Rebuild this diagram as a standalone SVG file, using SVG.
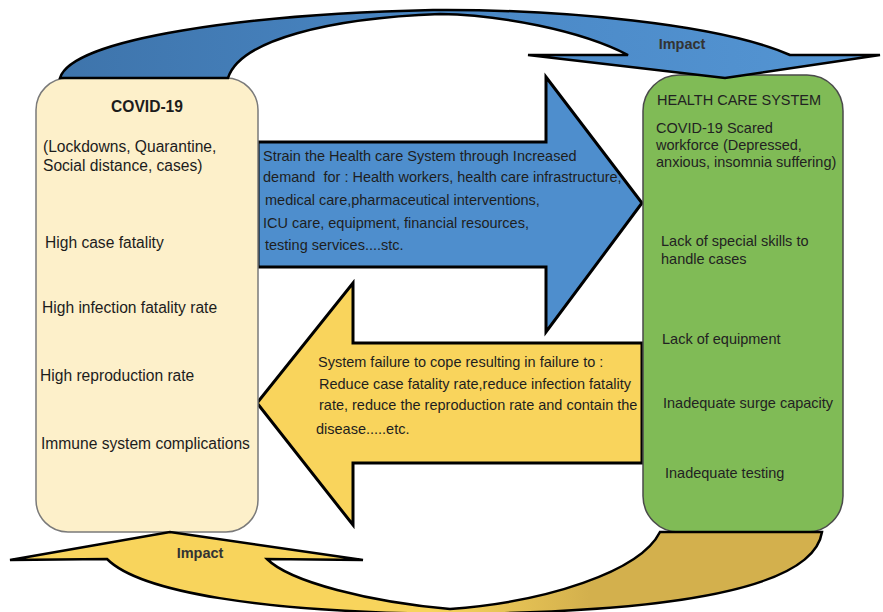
<svg xmlns="http://www.w3.org/2000/svg" width="883" height="612" viewBox="0 0 883 612">
  <defs>
    <linearGradient id="arcBlue" gradientUnits="userSpaceOnUse" x1="60" y1="0" x2="880" y2="0">
      <stop offset="0" stop-color="#3e74ab"/>
      <stop offset="0.5" stop-color="#4a88c6"/>
      <stop offset="1" stop-color="#5596d4"/>
    </linearGradient>
    <linearGradient id="arcGold" gradientUnits="userSpaceOnUse" x1="430" y1="0" x2="590" y2="0">
      <stop offset="0" stop-color="#f8d45c"/>
      <stop offset="1" stop-color="#d3b04d"/>
    </linearGradient>
  </defs>
  <style>
    .txt { font-family: "Liberation Sans", Arial, sans-serif; fill: #1c1c1c; }
    .lbox { font-size: 15.6px; }
    .rbox { font-size: 14.5px; fill: #222; }
    .arr { font-size: 14.5px; fill: #1e1e1e; }
    .bold { font-weight: bold; }
    .impact { font-family: "Liberation Sans", Arial, sans-serif; font-weight: bold; font-size: 14.5px; fill: #333; }
    .edge { stroke: #000; stroke-width: 3; stroke-linejoin: miter; }
    .arc { stroke: #000; stroke-width: 2.5; stroke-linejoin: miter; }
  </style>

  <!-- connectors -->
  <g id="connectors">
    <!-- demand arrow: COVID-19 to health care system -->
    <path id="strain-arrow" class="edge" fill="#4e8ecd"
          d="M258,142 L546,142 L546,77 L642,203 L546,332 L546,267 L258,267 Z"/>
    <!-- failure arrow: health care system back to COVID-19 -->
    <path id="failure-arrow" class="edge" fill="#f9d45c"
          d="M642,343 L353,343 L353,283 L257,403 L353,525 L353,463 L642,463 Z"/>
  </g>

  <!-- COVID-19 node -->
  <g id="covid">
    <rect x="36" y="78" width="222" height="454" rx="32" ry="32" fill="#fdf0ca" stroke="#7a7a7a" stroke-width="1.5"/>
    <text class="txt lbox bold" x="147" y="112" text-anchor="middle">COVID-19</text>
    <text class="txt lbox" x="43" y="152">(Lockdowns, Quarantine,</text>
    <text class="txt lbox" x="43" y="171">Social distance, cases)</text>
    <text class="txt lbox" x="45" y="248">High case fatality</text>
    <text class="txt lbox" x="42" y="313">High infection fatality rate</text>
    <text class="txt lbox" x="40" y="381">High reproduction rate</text>
    <text class="txt lbox" x="41" y="449">Immune system complications</text>
  </g>

  <!-- health care system node -->
  <g id="health-care">
    <rect x="643" y="75" width="200" height="457" rx="36" ry="36" fill="#80bb56" stroke="#4a4a4a" stroke-width="1.5"/>
    <text class="txt rbox" x="657" y="105">HEALTH CARE SYSTEM</text>
    <text class="txt rbox" x="656" y="133">COVID-19 Scared</text>
    <text class="txt rbox" x="656" y="150">workforce (Depressed,</text>
    <text class="txt rbox" x="656" y="167">anxious, insomnia suffering)</text>
    <text class="txt rbox" x="661" y="246">Lack of special skills to</text>
    <text class="txt rbox" x="661" y="264">handle cases</text>
    <text class="txt rbox" x="662" y="344">Lack of equipment</text>
    <text class="txt rbox" x="663" y="408">Inadequate surge capacity</text>
    <text class="txt rbox" x="665" y="478">Inadequate testing</text>
  </g>

  <!-- labels on the two straight arrows -->
  <g id="strain-label" class="txt arr">
    <text x="263" y="161">Strain the Health care System through Increased</text>
    <text x="263" y="182" xml:space="preserve">demand  for : Health workers, health care infrastructure,</text>
    <text x="265" y="205">medical care,pharmaceutical interventions,</text>
    <text x="263" y="228">ICU care, equipment, financial resources,</text>
    <text x="265" y="250">testing services....stc.</text>
  </g>
  <g id="failure-label" class="txt arr">
    <text x="318" y="367">System failure to cope resulting in failure to :</text>
    <text x="319" y="389">Reduce case fatality rate,reduce infection fatality</text>
    <text x="319" y="410">rate, reduce the reproduction rate and contain the</text>
    <text x="316" y="434">disease.....etc.</text>
  </g>

  <!-- curved impact arrows -->
  <g id="impact-arcs">
    <path id="impact-top" class="arc" fill="url(#arcBlue)"
          d="M60,78 C72,38 250,14 433,10 C560,9 720,24 790,55 L880,55 L725,78 L528,55 L628,55 C580,30 500,15 440,14 C330,18 240,40 228,78 Z"/>
    <text class="impact" x="682" y="49" text-anchor="middle">Impact</text>

    <path id="impact-bottom" class="arc" fill="url(#arcGold)"
          d="M660,532 L822,532 C815,578 720,612 450,614 C260,612 140,592 107,559 L10,560 L170,532 L363,560 L267,559 C290,582 370,602 450,609 C545,602 640,572 660,532 Z"/>
    <text class="impact" x="200" y="558" text-anchor="middle">Impact</text>
  </g>
</svg>
